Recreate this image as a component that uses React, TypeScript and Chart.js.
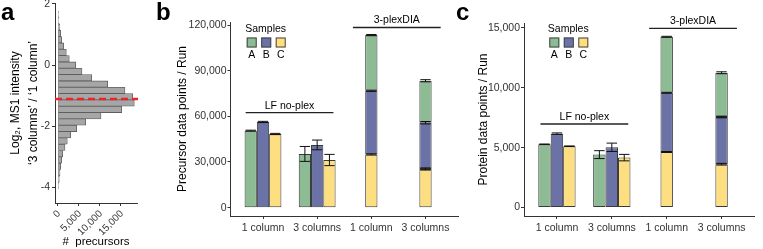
import React, { useEffect, useRef } from "react";
import { Chart, registerables } from "chart.js";

Chart.register(...registerables);

const FONT = "'Liberation Sans', Arial, Helvetica, sans-serif";
const CW = 763;
const CH = 249;

// ---------------- Panel a : histogram ----------------
const histBinCenters = [
  1.656, 1.449, 1.242, 1.035, 0.828, 0.621, 0.414, 0.207, 0, -0.207, -0.414, -0.621, -0.828, -1.035,
  -1.242, -1.449, -1.656, -1.863, -2.07, -2.277, -2.484, -2.691, -2.898, -3.105, -3.312, -3.519, -3.726, -3.933,
];
const histCounts = [
  100, 150, 400, 640, 880, 1360, 1980, 2690, 4210, 5710, 8020, 11830, 15950, 17780,
  18170, 15170, 10240, 6590, 4450, 3020, 2210, 1670, 1120, 880, 640, 480, 310, 160,
];
const histMedianRatio = -1.11;
const histCountTicks = [0, 5000, 10000, 15000];
const histRatioTicks = [2, 0, -2, -4];

// ---------------- Panels b & c : grouped / stacked bars ----------------
const groupPositions = [1, 2, 3, 4];
const groupLabels = ["1 column", "3 columns", "1 column", "3 columns"];
const sampleNames = ["A", "B", "C"];
const sampleColors = ["#8DBB93", "#6B72A5", "#FDDE80"];

const precursorLF_A = [50600, 35300, null, null];
const precursorLF_B = [56300, 41200, null, null];
const precursorLF_C = [48400, 31300, null, null];
const precursorPlex_A = [null, null, 36600, 27600];
const precursorPlex_B = [null, null, 41800, 30400];
const precursorPlex_C = [null, null, 35000, 25400];
const precursorSD_LF_A = [300, 4900, null, null];
const precursorSD_LF_B = [400, 3200, null, null];
const precursorSD_LF_C = [400, 3700, null, null];
const precursorSD_Plex_A = [null, null, 400, 700];
const precursorSD_Plex_B = [null, null, 400, 800];
const precursorSD_Plex_C = [null, null, 400, 700];
const precursorTicks = [0, 30000, 60000, 90000, 120000];

const proteinLF_A = [5280, 4420, null, null];
const proteinLF_B = [6170, 5030, null, null];
const proteinLF_C = [5120, 4170, null, null];
const proteinPlex_A = [null, null, 4670, 3690];
const proteinPlex_B = [null, null, 4940, 3940];
const proteinPlex_C = [null, null, 4640, 3620];
const proteinSD_LF_A = [25, 330, null, null];
const proteinSD_LF_B = [60, 350, null, null];
const proteinSD_LF_C = [25, 270, null, null];
const proteinSD_Plex_A = [null, null, 40, 80];
const proteinSD_Plex_B = [null, null, 40, 70];
const proteinSD_Plex_C = [null, null, 40, 70];
const proteinTicks = [0, 5000, 10000, 15000];

// ---------------- helpers ----------------
const AXIS = "#333333";
const TICK_TXT = "#333333";

const fixW = (w: number) => (s: any) => {
  s.width = w;
  s.paddingTop = 0; s.paddingBottom = 0; s.paddingLeft = 0; s.paddingRight = 0;
};
const fixH = (h: number) => (s: any) => {
  s.height = h;
  s.paddingTop = 0; s.paddingBottom = 0; s.paddingLeft = 0; s.paddingRight = 0;
};
const setTicks = (vals: number[]) => (s: any) => {
  s.ticks = vals.map((v) => ({ value: v }));
};
const gridTicks = { display: true, drawOnChartArea: false, drawTicks: true, tickLength: 3, color: AXIS, lineWidth: 1, offset: false };
const border = { display: true, color: AXIS, width: 1 };
const tickFont = { family: FONT, size: 10.5 };

function drawLetter(ctx: CanvasRenderingContext2D, letter: string, x: number, y: number) {
  ctx.save();
  ctx.fillStyle = "#000";
  ctx.font = `bold 24px ${FONT}`;
  ctx.textAlign = "left";
  ctx.textBaseline = "alphabetic";
  ctx.fillText(letter, x, y);
  ctx.restore();
}

const errorBarPlugin = {
  id: "errorBars",
  afterDatasetsDraw(chart: any) {
    const ctx = chart.ctx;
    const yScale = chart.scales.y;
    chart.data.datasets.forEach((ds: any, di: number) => {
      const errs = ds.errors;
      if (!errs) return;
      const meta = chart.getDatasetMeta(di);
      meta.data.forEach((el: any, i: number) => {
        if (ds.data[i] == null || errs[i] == null) return;
        const p = el.getProps(["x", "y", "width"], true);
        const topVal = yScale.getValueForPixel(p.y);
        const hi = yScale.getPixelForValue(topVal + errs[i]);
        const lo = yScale.getPixelForValue(topVal - errs[i]);
        const half = p.width * 0.42;
        ctx.save();
        ctx.strokeStyle = "#111";
        ctx.lineWidth = 1;
        ctx.beginPath();
        ctx.moveTo(p.x, hi); ctx.lineTo(p.x, lo);
        ctx.moveTo(p.x - half, hi); ctx.lineTo(p.x + half, hi);
        ctx.moveTo(p.x - half, lo); ctx.lineTo(p.x + half, lo);
        ctx.stroke();
        ctx.restore();
      });
    });
  },
};

function makeAnnotPlugin(cfg: any) {
  return {
    id: "annot" + cfg.letter,
    afterDraw(chart: any) {
      const ctx: CanvasRenderingContext2D = chart.ctx;
      const x = chart.scales.x;
      const y = chart.scales.y;
      drawLetter(ctx, cfg.letter, cfg.letterX, 20);
      ctx.save();
      for (const b of cfg.brackets) {
        const x0 = x.getPixelForValue(b.from);
        const x1 = x.getPixelForValue(b.to);
        const yy = y.getPixelForValue(b.y);
        ctx.strokeStyle = "#222";
        ctx.lineWidth = 1.3;
        ctx.beginPath();
        ctx.moveTo(x0, yy); ctx.lineTo(x1, yy);
        ctx.stroke();
        ctx.fillStyle = "#000";
        ctx.font = `10.5px ${FONT}`;
        ctx.textAlign = "center";
        ctx.textBaseline = "alphabetic";
        ctx.fillText(b.label, (x0 + x1) / 2, yy - 4);
      }
      const lx = cfg.legendX;
      ctx.fillStyle = "#000";
      ctx.font = `10.5px ${FONT}`;
      ctx.textAlign = "left";
      ctx.textBaseline = "alphabetic";
      ctx.fillText("Samples", lx - 1.5, 32);
      sampleNames.forEach((n, k) => {
        const bx = lx + k * 14.5;
        ctx.fillStyle = sampleColors[k];
        ctx.fillRect(bx, 37.5, 10, 10);
        ctx.strokeStyle = "#444";
        ctx.lineWidth = 1;
        ctx.strokeRect(bx + 0.5, 38, 9, 9);
        ctx.fillStyle = "#000";
        ctx.textAlign = "center";
        ctx.fillText(n, bx + 5, 58);
      });
      ctx.restore();
    },
  };
}

function barDatasets(lf: any[], plex: any[], lfSD: any[], plexSD: any[]) {
  const ds: any[] = [];
  lf.forEach((vals, k) => {
    ds.push({
      label: sampleNames[k], data: vals, errors: lfSD[k], stack: "lf" + k,
      backgroundColor: sampleColors[k], borderColor: "#3a3a3a", borderWidth: 1, borderSkipped: false,
      categoryPercentage: 0.68, barPercentage: 1, skipNull: true,
    });
  });
  [2, 1, 0].forEach((k) => {
    ds.push({
      label: sampleNames[k], data: plex[k], errors: plexSD[k], stack: "plex",
      backgroundColor: sampleColors[k], borderColor: "#3a3a3a", borderWidth: 1, borderSkipped: false,
      categoryPercentage: 0.68, barPercentage: 1 / 3, skipNull: true,
    });
  });
  return ds;
}

function barConfig(p: any) {
  return {
    type: "bar",
    data: { labels: groupPositions, datasets: p.datasets },
    options: {
      animation: false,
      responsive: false,
      devicePixelRatio: 1,
      layout: { padding: p.padding },
      plugins: { legend: { display: false }, tooltip: { enabled: false } },
      scales: {
        x: {
          type: "linear", position: "bottom", min: 0.4, max: 4.6, offset: false,
          afterBuildTicks: setTicks(groupPositions),
          afterFit: fixH(20),
          ticks: {
            autoSkip: false, maxRotation: 0, minRotation: 0, padding: 3, color: TICK_TXT, font: tickFont,
            callback: (_v: any, i: number) => groupLabels[i],
          },
          grid: gridTicks, border,
        },
        y: {
          type: "linear", position: "left", stacked: true, min: p.yMin, max: p.yMax,
          afterBuildTicks: setTicks(p.yTicks),
          afterFit: fixW(p.yWidth),
          ticks: { padding: 1, color: TICK_TXT, font: tickFont, callback: (v: any) => Number(v).toLocaleString("en-US") },
          grid: gridTicks, border,
          title: {
            display: true, text: p.yTitle, color: "#000",
            font: { family: FONT, size: 12, lineHeight: 1.2 },
            padding: { top: p.titlePad, bottom: 0 },
          },
        },
      },
    },
    plugins: [errorBarPlugin, makeAnnotPlugin(p.annot)],
  };
}

export default function App() {
  const refA = useRef<HTMLCanvasElement>(null);
  const refB = useRef<HTMLCanvasElement>(null);
  const refC = useRef<HTMLCanvasElement>(null);

  useEffect(() => {
    const histPlugin = {
      id: "histAnnot",
      afterDatasetsDraw(chart: any) {
        const ctx = chart.ctx;
        const yy = chart.scales.y.getPixelForValue(histMedianRatio);
        ctx.save();
        ctx.strokeStyle = "#E8262A";
        ctx.lineWidth = 2.3;
        ctx.setLineDash([7, 4]);
        ctx.beginPath();
        ctx.moveTo(chart.chartArea.left, yy);
        ctx.lineTo(chart.chartArea.right + 1, yy);
        ctx.stroke();
        ctx.restore();
      },
      afterDraw(chart: any) {
        drawLetter(chart.ctx, "a", 1, 20);
      },
    };

    const chartA = new Chart(refA.current as HTMLCanvasElement, {
      type: "bar",
      data: {
        datasets: [
          {
            data: histBinCenters.map((c, i) => ({ x: histCounts[i], y: c })),
            backgroundColor: "#A6A6A6",
            borderColor: "#5E5E5E",
            borderWidth: 0.8,
            borderSkipped: false,
            categoryPercentage: 1,
            barPercentage: 1,
          },
        ],
      },
      options: {
        indexAxis: "y",
        animation: false,
        responsive: false,
        devicePixelRatio: 1,
        layout: { padding: { left: 0, top: 3, right: CW - 137, bottom: 0 } },
        plugins: { legend: { display: false }, tooltip: { enabled: false } },
        scales: {
          x: {
            type: "linear", position: "bottom", min: -714, max: 18810,
            afterBuildTicks: setTicks(histCountTicks),
            afterFit: fixH(46),
            ticks: {
              minRotation: 45, maxRotation: 45, autoSkip: false, padding: 2, labelOffset: 1,
              color: TICK_TXT, font: { family: FONT, size: 10 },
              callback: (v: any) => Number(v).toLocaleString("en-US"),
            },
            grid: gridTicks, border,
            title: {
              display: true, text: "#  precursors", color: "#000",
              font: { family: FONT, size: 11.5, lineHeight: 1.2 },
              padding: { top: 0, bottom: 0 },
            },
          },
          y: {
            type: "linear", position: "left", min: -4.51, max: 2.03, offset: false,
            afterBuildTicks: setTicks(histRatioTicks),
            afterFit: fixW(55),
            ticks: { padding: 2, color: TICK_TXT, font: tickFont, callback: (v: any) => String(v) },
            grid: gridTicks, border,
            title: {
              display: true,
              text: ["Log\u2082, MS1 intensity", "\u20183 columns\u2019 / \u20181 column\u2019"],
              color: "#000",
              font: { family: FONT, size: 12, lineHeight: 1.5 },
              padding: { top: 7, bottom: 0 },
            },
          },
        },
      },
      plugins: [histPlugin],
    } as any);

    const chartB = new Chart(
      refB.current as HTMLCanvasElement,
      barConfig({
        datasets: barDatasets(
          [precursorLF_A, precursorLF_B, precursorLF_C],
          [precursorPlex_A, precursorPlex_B, precursorPlex_C],
          [precursorSD_LF_A, precursorSD_LF_B, precursorSD_LF_C],
          [precursorSD_Plex_A, precursorSD_Plex_B, precursorSD_Plex_C]
        ),
        padding: { left: 170, top: 22, right: CW - 458, bottom: 13 },
        yMin: -5500, yMax: 122000, yTicks: precursorTicks, yWidth: 60.5,
        yTitle: "Precursor data points / Run", titlePad: 5.8,
        annot: {
          letter: "b", letterX: 156, legendX: 246.7,
          brackets: [
            { from: 0.68, to: 2.3, y: 62400, label: "LF no-plex" },
            { from: 2.66, to: 4.28, y: 118400, label: "3-plexDIA" },
          ],
        },
      }) as any
    );

    const chartC = new Chart(
      refC.current as HTMLCanvasElement,
      barConfig({
        datasets: barDatasets(
          [proteinLF_A, proteinLF_B, proteinLF_C],
          [proteinPlex_A, proteinPlex_B, proteinPlex_C],
          [proteinSD_LF_A, proteinSD_LF_B, proteinSD_LF_C],
          [proteinSD_Plex_A, proteinSD_Plex_B, proteinSD_Plex_C]
        ),
        padding: { left: 470, top: 23, right: CW - 754.5, bottom: 13 },
        yMin: -700, yMax: 15400, yTicks: proteinTicks, yWidth: 54,
        yTitle: "Protein data points / Run", titlePad: 6.1,
        annot: {
          letter: "c", letterX: 456, legendX: 549.3,
          brackets: [
            { from: 0.7, to: 2.3, y: 6975, label: "LF no-plex" },
            { from: 2.68, to: 4.28, y: 14950, label: "3-plexDIA" },
          ],
        },
      }) as any
    );

    return () => {
      chartA.destroy();
      chartB.destroy();
      chartC.destroy();
    };
  }, []);

  const cs: React.CSSProperties = { position: "absolute", left: 0, top: 0 };
  return (
    <div style={{ position: "fixed", left: 0, top: 0, width: CW, height: CH, background: "#fff", overflow: "hidden" }}>
      <canvas ref={refA} width={CW} height={CH} style={cs} />
      <canvas ref={refB} width={CW} height={CH} style={cs} />
      <canvas ref={refC} width={CW} height={CH} style={cs} />
    </div>
  );
}
